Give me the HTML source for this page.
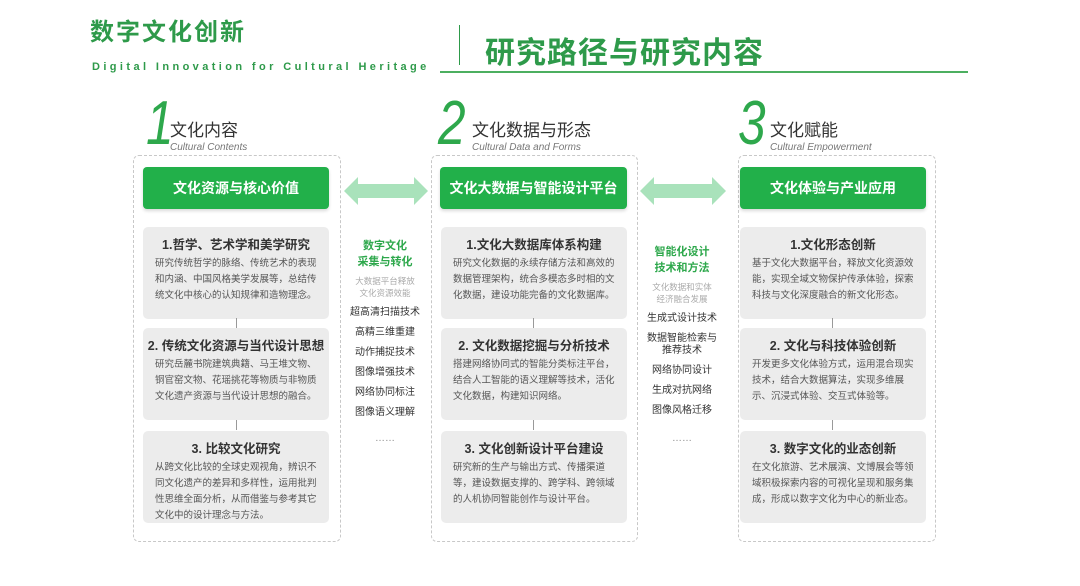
<!DOCTYPE html>
<html><head><meta charset="utf-8"><style>
*{margin:0;padding:0;box-sizing:border-box}
body{width:1080px;height:586px;background:#fff;position:relative;overflow:hidden;font-family:"Liberation Sans","Noto Sans CJK SC",sans-serif;color:#333}
.a{position:absolute}
.panel{position:absolute;top:155px;height:387px;border:1px dashed #c8c8c8;border-radius:6px}
.hdr{position:absolute;top:167px;height:42px;background:#22b04a;border-radius:4px;color:#fff;font-size:14px;font-weight:bold;text-align:center;line-height:42px;box-shadow:0 2px 3px rgba(0,0,0,.15)}
.card{position:absolute;height:92px;background:#ececec;border-radius:5px;text-align:center}
.card h4{font-size:12.5px;font-weight:bold;color:#333;margin-top:10px;line-height:16px}
.card p{font-size:9.5px;color:#555;line-height:16px;text-align:left;padding:3px 10px 0 12px}
.vl{position:absolute;width:1px;height:10px;background:#999}
.mid{position:absolute;width:84px;text-align:center}
.mid .g{color:#2ea84c;font-size:11px;font-weight:bold;line-height:16px}
.mid .s{color:#aaa;font-size:8.5px;line-height:12px;margin-top:5px}
.mid .t{color:#333;font-size:10px;line-height:12px;margin-top:8px}
.num{position:absolute;top:94px;font-size:62px;color:#2ea84c;font-style:italic;font-weight:normal;font-family:"Liberation Sans",sans-serif;line-height:60px;transform:scaleX(0.8);transform-origin:left}
.tt{position:absolute;top:116px;font-size:17px;color:#333}
.st{position:absolute;top:142px;font-size:10px;color:#777;font-style:italic}
</style></head><body>
<div class="a" style="left:90px;top:12px;font-size:24px;font-weight:bold;color:#2e9a4a;letter-spacing:2px">数字文化创新</div>
<div class="a" style="left:92px;top:61px;font-size:11px;font-weight:bold;color:#2e9a4a;letter-spacing:3.4px">Digital Innovation for Cultural Heritage</div>
<div class="a" style="left:459px;top:25px;width:1px;height:40px;background:#2e9a4a"></div>
<div class="a" style="left:485px;top:28px;font-size:30px;font-weight:bold;color:#2e9a4a;letter-spacing:1px">研究路径与研究内容</div>
<div class="a" style="left:440px;top:71px;width:528px;height:2px;background:#4caf60"></div>

<div class="num" style="left:146px">1</div><div class="tt" style="left:170px">文化内容</div><div class="st" style="left:170px">Cultural Contents</div>
<div class="num" style="left:438px">2</div><div class="tt" style="left:472px">文化数据与形态</div><div class="st" style="left:472px">Cultural Data and Forms</div>
<div class="num" style="left:738px">3</div><div class="tt" style="left:770px">文化赋能</div><div class="st" style="left:770px">Cultural Empowerment</div>

<div class="panel" style="left:133px;width:208px"></div>
<div class="panel" style="left:431px;width:207px"></div>
<div class="panel" style="left:738px;width:198px"></div>

<div class="hdr" style="left:143px;width:186px">文化资源与核心价值</div>
<div class="hdr" style="left:440px;width:187px">文化大数据与智能设计平台</div>
<div class="hdr" style="left:740px;width:186px">文化体验与产业应用</div>

<svg class="a" style="left:344px;top:176px" width="84" height="30"><polygon points="0,15 14,1 14,8 70,8 70,1 84,15 70,29 70,22 14,22 14,29" fill="#a9e2bb"/></svg>
<svg class="a" style="left:640px;top:176px" width="86" height="30"><polygon points="0,15 14,1 14,8 72,8 72,1 86,15 72,29 72,22 14,22 14,29" fill="#a9e2bb"/></svg>

<div class="card" style="left:143px;top:227px;width:186px"><h4>1.哲学、艺术学和美学研究</h4><p>研究传统哲学的脉络、传统艺术的表现和内涵、中国风格美学发展等，总结传统文化中核心的认知规律和造物理念。</p></div>
<div class="vl" style="left:236px;top:318px"></div>
<div class="card" style="left:143px;top:328px;width:186px"><h4>2. 传统文化资源与当代设计思想</h4><p>研究岳麓书院建筑典籍、马王堆文物、铜官窑文物、花瑶挑花等物质与非物质文化遗产资源与当代设计思想的融合。</p></div>
<div class="vl" style="left:236px;top:420px"></div>
<div class="card" style="left:143px;top:431px;width:186px"><h4>3. 比较文化研究</h4><p>从跨文化比较的全球史观视角，辨识不同文化遗产的差异和多样性，运用批判性思维全面分析，从而借鉴与参考其它文化中的设计理念与方法。</p></div>

<div class="card" style="left:441px;top:227px;width:186px"><h4>1.文化大数据库体系构建</h4><p>研究文化数据的永续存储方法和高效的数据管理架构，统合多模态多时相的文化数据，建设功能完备的文化数据库。</p></div>
<div class="vl" style="left:533px;top:318px"></div>
<div class="card" style="left:441px;top:328px;width:186px"><h4>2. 文化数据挖掘与分析技术</h4><p>搭建网络协同式的智能分类标注平台，结合人工智能的语义理解等技术，活化文化数据，构建知识网络。</p></div>
<div class="vl" style="left:533px;top:420px"></div>
<div class="card" style="left:441px;top:431px;width:186px"><h4>3. 文化创新设计平台建设</h4><p>研究新的生产与输出方式、传播渠道等，建设数据支撑的、跨学科、跨领域的人机协同智能创作与设计平台。</p></div>

<div class="card" style="left:740px;top:227px;width:186px"><h4>1.文化形态创新</h4><p>基于文化大数据平台，释放文化资源效能，实现全域文物保护传承体验，探索科技与文化深度融合的新文化形态。</p></div>
<div class="vl" style="left:832px;top:318px"></div>
<div class="card" style="left:740px;top:328px;width:186px"><h4>2. 文化与科技体验创新</h4><p>开发更多文化体验方式，运用混合现实技术，结合大数据算法，实现多维展示、沉浸式体验、交互式体验等。</p></div>
<div class="vl" style="left:832px;top:420px"></div>
<div class="card" style="left:740px;top:431px;width:186px"><h4>3. 数字文化的业态创新</h4><p>在文化旅游、艺术展演、文博展会等领域积极探索内容的可视化呈现和服务集成，形成以数字文化为中心的新业态。</p></div>

<div class="mid" style="left:343px;top:238px">
<div class="g">数字文化<br>采集与转化</div>
<div class="s">大数据平台释放<br>文化资源效能</div>
<div class="t">超高清扫描技术</div><div class="t">高精三维重建</div><div class="t">动作捕捉技术</div><div class="t">图像增强技术</div><div class="t">网络协同标注</div><div class="t">图像语义理解</div>
<div class="t" style="margin-top:14px;color:#888">……</div>
</div>
<div class="mid" style="left:640px;top:244px">
<div class="g">智能化设计<br>技术和方法</div>
<div class="s">文化数据和实体<br>经济融合发展</div>
<div class="t">生成式设计技术</div><div class="t">数据智能检索与<br>推荐技术</div><div class="t">网络协同设计</div><div class="t">生成对抗网络</div><div class="t">图像风格迁移</div>
<div class="t" style="margin-top:16px;color:#888">……</div>
</div>
</body></html>
